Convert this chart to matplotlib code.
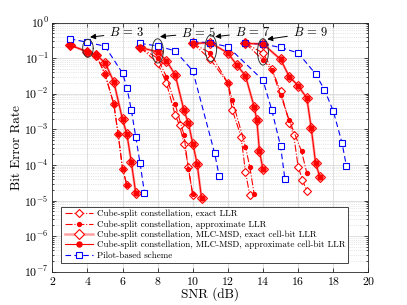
import numpy as np
import matplotlib
matplotlib.use("Agg")
import matplotlib.pyplot as plt
from matplotlib.ticker import LogLocator, NullFormatter

plt.rcParams['font.family'] = ['cmr10', 'DejaVu Serif']
plt.rcParams['mathtext.fontset'] = 'cm'
plt.rcParams['axes.formatter.use_mathtext'] = True

# ---------------- data ----------------
# B = 3
snr_ex_b3 = [3, 4, 4.5, 5, 5.5, 5.75, 6, 6.25]
ber_ex_b3 = [0.235, 0.15, 0.12, 0.036, 5.2e-3, 7.4e-4, 7.9e-5, 2.7e-5]
snr_ap_b3 = [3, 4, 4.5, 5, 5.5, 5.75, 6, 6.25]
ber_ap_b3 = [0.235, 0.15, 0.12, 0.036, 5.2e-3, 7.4e-4, 7.9e-5, 2.7e-5]
snr_mex_b3 = [3, 4, 4.5, 5, 5.5, 6, 6.25, 6.5, 6.75]
ber_mex_b3 = [0.235, 0.15, 0.123, 0.075, 0.022, 1.9e-3, 7.3e-4, 1.2e-4, 1.66e-5]
snr_map_b3 = [3, 4, 4.5, 5, 5.5, 6, 6.25, 6.5, 6.75]
ber_map_b3 = [0.235, 0.15, 0.123, 0.075, 0.022, 1.9e-3, 7.3e-4, 1.2e-4, 1.66e-5]
snr_pil_b3 = [3, 4, 5, 6, 6.25, 6.5, 6.75, 7, 7.25]
ber_pil_b3 = [0.35, 0.28, 0.216, 0.038, 0.0148, 3.5e-3, 6.3e-4, 1.1e-4, 1.66e-5]

# B = 5
snr_ex_b5 = [7, 8, 8.5, 9, 9.25, 9.5, 9.75, 10]
ber_ex_b5 = [0.2, 0.074, 0.02, 2.5e-3, 1.3e-3, 4e-4, 9e-5, 1.4e-5]
snr_ap_b5 = [7, 8, 8.5, 9, 9.5, 9.75, 10]
ber_ap_b5 = [0.2, 0.1, 0.03, 5e-3, 7e-4, 7.6e-5, 1.5e-5]
snr_mex_b5 = [7, 8, 8.5, 9, 9.5, 9.75, 10, 10.25, 10.5]
ber_mex_b5 = [0.2, 0.15, 0.085, 0.034, 3.4e-3, 1.5e-3, 4e-4, 1.07e-4, 1.16e-5]
snr_map_b5 = [7, 8, 8.5, 9, 9.5, 9.75, 10, 10.25, 10.5]
ber_map_b5 = [0.2, 0.15, 0.085, 0.034, 3.4e-3, 1.5e-3, 4e-4, 1.07e-4, 1.16e-5]
snr_pil_b5 = [7, 8, 9, 10, 11.25, 11.5]
ber_pil_b5 = [0.26, 0.22, 0.16, 0.044, 2.1e-4, 5e-5]

# B = 7
snr_ex_b7 = [10, 11, 12, 12.25, 12.75, 13, 13.25]
ber_ex_b7 = [0.26, 0.093, 0.02, 3.5e-3, 6.3e-4, 6.5e-5, 1.4e-5]
snr_ap_b7 = [10, 11, 12, 12.25, 13, 13.25, 13.5]
ber_ap_b7 = [0.26, 0.14, 0.02, 6.7e-3, 3.3e-4, 8.7e-5, 1.5e-5]
snr_mex_b7 = [10, 11, 12, 12.5, 13, 13.5, 13.65, 13.8, 14]
ber_mex_b7 = [0.26, 0.27, 0.14, 0.065, 0.032, 4.3e-3, 1.8e-3, 2.4e-4, 7.6e-5]
snr_map_b7 = [10, 11, 12, 12.5, 13, 13.5, 13.65, 13.8, 14]
ber_map_b7 = [0.26, 0.27, 0.14, 0.065, 0.032, 4.3e-3, 1.8e-3, 2.4e-4, 7.6e-5]
snr_pil_b7 = [10, 11, 12, 14, 14.5, 15, 15.25]
ber_pil_b7 = [0.29, 0.27, 0.21, 0.024, 3.5e-3, 3.4e-4, 4e-5]

# B = 9
snr_ex_b9 = [13, 14, 14.5, 15, 15.5, 15.75, 16, 16.25, 16.5]
ber_ex_b9 = [0.26, 0.14, 0.05, 0.012, 1.5e-3, 6.9e-4, 9e-5, 3.8e-5, 1.8e-5]
snr_ap_b9 = [13, 14, 14.5, 15, 15.5, 16.2, 16.5]
ber_ap_b9 = [0.26, 0.089, 0.047, 9.3e-3, 1.8e-3, 2.4e-4, 5.8e-5]
snr_mex_b9 = [13, 14, 15, 15.5, 16, 16.5, 16.75, 17, 17.25]
ber_mex_b9 = [0.26, 0.25, 0.093, 0.03, 0.017, 7.5e-3, 1.07e-3, 1.1e-4, 4.5e-5]
snr_map_b9 = [13, 14, 15, 15.5, 16, 16.5, 16.75, 17, 17.25]
ber_map_b9 = [0.26, 0.25, 0.093, 0.03, 0.017, 7.5e-3, 1.07e-3, 1.1e-4, 4.5e-5]
snr_pil_b9 = [13, 14, 15, 16, 17, 17.5, 18, 18.5, 18.75]
ber_pil_b9 = [0.26, 0.25, 0.2, 0.14, 0.036, 0.013, 3.3e-3, 4.2e-4, 9.4e-5]

x_ticks = [2, 4, 6, 8, 10, 12, 14, 16, 18, 20]
y_ticks = [1e-7, 1e-6, 1e-5, 1e-4, 1e-3, 1e-2, 1e-1, 1]

labels = ['Cube-split constellation, exact LLR',
          'Cube-split constellation, approximate LLR',
          'Cube-split constellation, MLC-MSD, exact cell-bit LLR',
          'Cube-split constellation, MLC-MSD, approximate cell-bit LLR',
          'Pilot-based scheme']

groups = [
    (snr_ex_b3, ber_ex_b3, snr_ap_b3, ber_ap_b3, snr_mex_b3, ber_mex_b3, snr_map_b3, ber_map_b3, snr_pil_b3, ber_pil_b3),
    (snr_ex_b5, ber_ex_b5, snr_ap_b5, ber_ap_b5, snr_mex_b5, ber_mex_b5, snr_map_b5, ber_map_b5, snr_pil_b5, ber_pil_b5),
    (snr_ex_b7, ber_ex_b7, snr_ap_b7, ber_ap_b7, snr_mex_b7, ber_mex_b7, snr_map_b7, ber_map_b7, snr_pil_b7, ber_pil_b7),
    (snr_ex_b9, ber_ex_b9, snr_ap_b9, ber_ap_b9, snr_mex_b9, ber_mex_b9, snr_map_b9, ber_map_b9, snr_pil_b9, ber_pil_b9),
]

b_values = [3, 5, 7, 9]
# ellipse (centre snr, centre ber, half-width dB, half-height decades)
ellipses = [(4.03, 0.19, 0.30, 0.25), (8.0, 0.16, 0.32, 0.34),
            (11.03, 0.19, 0.33, 0.37), (14.0, 0.15, 0.31, 0.37)]
# text position and arrow head position
notes = [((5.25, 0.51), (4.15, 0.39)), ((9.35, 0.51), (8.13, 0.40)),
         ((12.4, 0.53), (11.27, 0.40)), ((15.7, 0.51), (14.24, 0.34))]

fig = plt.figure(figsize=(4.07, 3.05), dpi=100)
ax = fig.add_axes([0.1285, 0.109, 0.7765, 0.817])

red = '#ff0000'
pink = '#ffa0a0'
blue = '#0000ff'

handles = [None] * 5
for g in groups:
    sx, bx, sa, ba, sme, bme, sma, bma, sp, bp = g
    h0, = ax.semilogy(sx, bx, linestyle='-.', color=red, lw=0.8, marker='D',
                      mfc='white', mec=red, ms=4.0, mew=0.8, zorder=3)
    h1, = ax.semilogy(sa, ba, linestyle='-.', color=red, lw=0.8, marker='o',
                      mfc=red, mec=red, ms=2.8, zorder=4)
    h2, = ax.semilogy(sme, bme, linestyle='-', color=pink, lw=1.8, marker='D',
                      mfc='white', mec=red, ms=4.6, mew=0.8, zorder=2)
    h3, = ax.semilogy(sma, bma, linestyle='-', color=red, lw=0.8, marker='o',
                      mfc=red, mec=red, ms=3.6, zorder=4)
    h4, = ax.semilogy(sp, bp, linestyle=(0, (5, 3)), color=blue, lw=0.8, marker='s',
                      mfc='white', mec=blue, ms=4.4, mew=0.8, zorder=3)
    handles = [h0, h1, h2, h3, h4]

t = np.linspace(0, 2 * np.pi, 100)
for (cx, cy, hw, hh), b, (tp, hp) in zip(ellipses, b_values, notes):
    ax.plot(cx + hw * np.cos(t), 10 ** (np.log10(cy) + hh * np.sin(t)),
            color='#333333', lw=0.7, zorder=5)
    ax.annotate(r'$B\,=\,%d$' % b, xy=hp, xytext=tp, fontsize=9,
                va='center', ha='left',
                arrowprops=dict(arrowstyle='-|>', color='k', lw=0.7,
                                mutation_scale=8, shrinkA=2, shrinkB=0),
                zorder=6)

ax.set_xlim(2, 20)
ax.set_ylim(1e-7, 1)
ax.set_xticks(x_ticks)
ax.set_yticks(y_ticks)
ax.yaxis.set_minor_locator(LogLocator(base=10, subs=np.arange(2, 10)))
ax.yaxis.set_minor_formatter(NullFormatter())
ax.tick_params(which='both', direction='in', top=True, right=True,
               labelsize=8.5, width=0.5, length=3, pad=2.5)
ax.tick_params(which='minor', length=1.5)
ax.grid(True, which='major', color='#d9d9d9', lw=0.6)
ax.grid(True, which='minor', axis='y', color='#d0d0d0', lw=0.5, linestyle=':')
ax.set_axisbelow(True)
for s in ax.spines.values():
    s.set_linewidth(0.6)
    s.set_color('#262626')

ax.set_xlabel('SNR (dB)', fontsize=9.5, labelpad=0)
ax.set_ylabel('Bit Error Rate', fontsize=9.5, labelpad=1)

leg = ax.legend(handles, labels, loc='lower left', bbox_to_anchor=(0.029, 0.035),
                fontsize=6.5, frameon=True, fancybox=False, edgecolor='#262626',
                framealpha=1, handlelength=3.1, labelspacing=0.22,
                borderpad=0.35, handletextpad=0.45, borderaxespad=0)
leg.get_frame().set_linewidth(0.6)

fig.savefig('out.png', dpi=100)
